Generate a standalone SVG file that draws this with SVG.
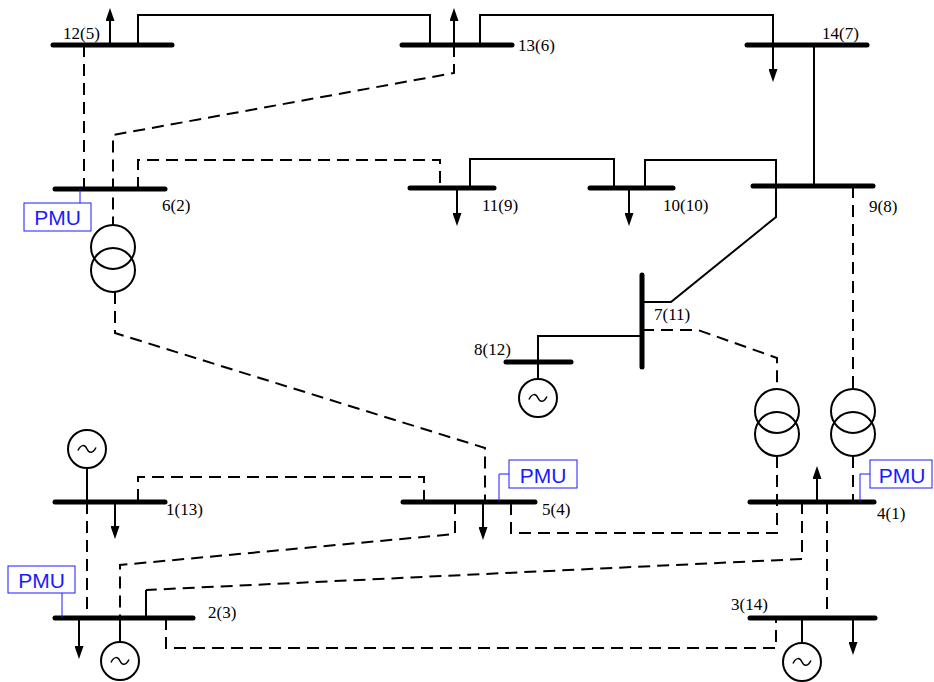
<svg xmlns="http://www.w3.org/2000/svg" width="934" height="682" viewBox="0 0 934 682">
<style>
.bus{stroke:#000;stroke-width:5;stroke-linecap:round;fill:none}
.ln{stroke:#000;stroke-width:2;fill:none}
.dl{stroke:#000;stroke-width:2;fill:none;stroke-dasharray:12 7}
.ld{stroke:#000;stroke-width:2;fill:none;marker-end:url(#arr)}
.cir{stroke:#000;stroke-width:2;fill:none}
.gen{stroke:#000;stroke-width:2;fill:#fff}
.sin{stroke:#000;stroke-width:1.5;fill:none}
.lbl{font-family:"Liberation Serif","Times New Roman",serif;font-size:17px;fill:#000}
.pbox{stroke:#1a1aff;stroke-width:1;fill:#fff}
.pln{stroke:#1a1aff;stroke-width:1;fill:none}
.ptx{font-family:"Liberation Sans",Arial,sans-serif;font-size:21px;fill:#1a1aff;text-anchor:middle}
</style>
<defs>
<marker id="arr" viewBox="0 0 13 9" refX="1" refY="4.5" markerWidth="13" markerHeight="9" markerUnits="userSpaceOnUse" orient="auto">
<path d="M0,0 L13,4.5 L0,9 z" fill="#000"/>
</marker>
<path id="sine" class="sin" d="M-9,1.5 C-6,-5 -2,-4.5 0,0 S6,4.5 9,-1.5"/>
</defs>
<rect width="934" height="682" fill="#fff"/>

<g id="connectors">
<path class="ln" d="M138,45 V15 H430 V45"/>
<path class="ln" d="M480,45 V15 H773 V45"/>
<path class="ln" d="M814,45 V186"/>
<path class="ln" d="M470,188 V159 H614 V188"/>
<path class="ln" d="M645,188 V160 H776 V186"/>
<path class="ln" d="M776,186 V217 L671,302 H642"/>
<path class="ln" d="M642,336 H538 V362"/>
<path class="ln" d="M146,618 V590"/>
<path class="dl" d="M84,45 V189"/>
<path class="dl" d="M454,45 V73 L113,135 V225"/>
<path class="dl" d="M138,189 V160 H440 V188"/>
<path class="dl" d="M115,292 V333 L485,448 V502"/>
<path class="dl" d="M642,330 H698 L777,358 V388"/>
<path class="dl" d="M853,186 V388"/>
<path class="dl" d="M777,456 V533 H511 V502"/>
<path class="dl" d="M853,456 V502"/>
<path class="dl" d="M802,502 V559 L146,590"/>
<path class="dl" d="M827,502 V618"/>
<path class="dl" d="M455,502 V534 L120,565 V618"/>
<path class="dl" d="M424,502 V477 H138 V502"/>
<path class="dl" d="M87,502 V618"/>
<path class="dl" d="M166,618 V648 H776 V618"/>
<path class="ld" d="M110,45 V20"/>
<path class="ld" d="M454,45 V20"/>
<path class="ld" d="M773,45 V70"/>
<path class="ld" d="M457,188 V214"/>
<path class="ld" d="M629,188 V214"/>
<path class="ld" d="M483,502 V528"/>
<path class="ld" d="M115,502 V527"/>
<path class="ld" d="M79,618 V647"/>
<path class="ld" d="M817,502 V478"/>
<path class="ld" d="M853,618 V643"/>
<path class="ln" d="M538,362 V379"/>
<path class="ln" d="M87,468 V502"/>
<path class="ln" d="M120,618 V642"/>
<path class="ln" d="M802,618 V643"/>
</g>

<g id="bus12"><path class="bus" d="M53,45 H172"/><text class="lbl" x="63" y="39">12(5)</text></g>
<g id="bus13"><path class="bus" d="M402,45 H512"/><text class="lbl" x="518" y="51">13(6)</text></g>
<g id="bus14"><path class="bus" d="M747,45 H867"/><text class="lbl" x="822" y="39">14(7)</text></g>
<g id="bus6"><path class="bus" d="M55,189 H165"/><text class="lbl" x="162" y="211">6(2)</text></g>
<g id="bus11"><path class="bus" d="M410,188 H494"/><text class="lbl" x="482" y="211">11(9)</text></g>
<g id="bus10"><path class="bus" d="M590,188 H673"/><text class="lbl" x="663" y="211">10(10)</text></g>
<g id="bus9"><path class="bus" d="M753,186 H873"/><text class="lbl" x="869" y="212">9(8)</text></g>
<g id="bus7"><path class="bus" d="M642,275 V367"/><text class="lbl" x="654" y="320">7(11)</text></g>
<g id="bus8"><path class="bus" d="M506,362 H571"/><text class="lbl" x="474" y="355">8(12)</text></g>
<g id="bus1"><path class="bus" d="M55,502 H165"/><text class="lbl" x="166" y="515">1(13)</text></g>
<g id="bus5"><path class="bus" d="M403,502 H535"/><text class="lbl" x="542" y="515">5(4)</text></g>
<g id="bus4"><path class="bus" d="M750,502 H874"/><text class="lbl" x="877" y="519">4(1)</text></g>
<g id="bus2"><path class="bus" d="M55,618 H193"/><text class="lbl" x="208" y="618">2(3)</text></g>
<g id="bus3"><path class="bus" d="M750,618 H875"/><text class="lbl" x="731" y="610">3(14)</text></g>

<g id="transformer6-5"><circle class="cir" cx="113" cy="247" r="22"/><circle class="cir" cx="113" cy="270" r="22"/></g>
<g id="transformer7-4"><circle class="cir" cx="777" cy="411" r="22"/><circle class="cir" cx="777" cy="434" r="22"/></g>
<g id="transformer9-4"><circle class="cir" cx="853" cy="411" r="22"/><circle class="cir" cx="853" cy="434" r="22"/></g>

<g id="gen8"><circle class="gen" cx="538" cy="398" r="19"/><use href="#sine" x="538" y="398"/></g>
<g id="gen1"><circle class="gen" cx="87" cy="449" r="19"/><use href="#sine" x="87" y="449"/></g>
<g id="gen2"><circle class="gen" cx="120" cy="661" r="19"/><use href="#sine" x="120" y="661"/></g>
<g id="gen3"><circle class="gen" cx="802" cy="662" r="19"/><use href="#sine" x="802" y="662"/></g>

<g id="pmu6"><path class="pln" d="M80,189 V203"/><rect class="pbox" x="24" y="203" width="67" height="28"/><text class="ptx" x="57.5" y="225">PMU</text></g>
<g id="pmu5"><path class="pln" d="M499,502 V474 H509"/><rect class="pbox" x="509" y="460" width="68" height="28"/><text class="ptx" x="543" y="483">PMU</text></g>
<g id="pmu4"><path class="pln" d="M860,502 V474 H870"/><rect class="pbox" x="870" y="460" width="62" height="28"/><text class="ptx" x="902" y="483">PMU</text></g>
<g id="pmu2"><path class="pln" d="M62,593 V618"/><rect class="pbox" x="8" y="566" width="67" height="27"/><text class="ptx" x="41.5" y="588">PMU</text></g>
</svg>
